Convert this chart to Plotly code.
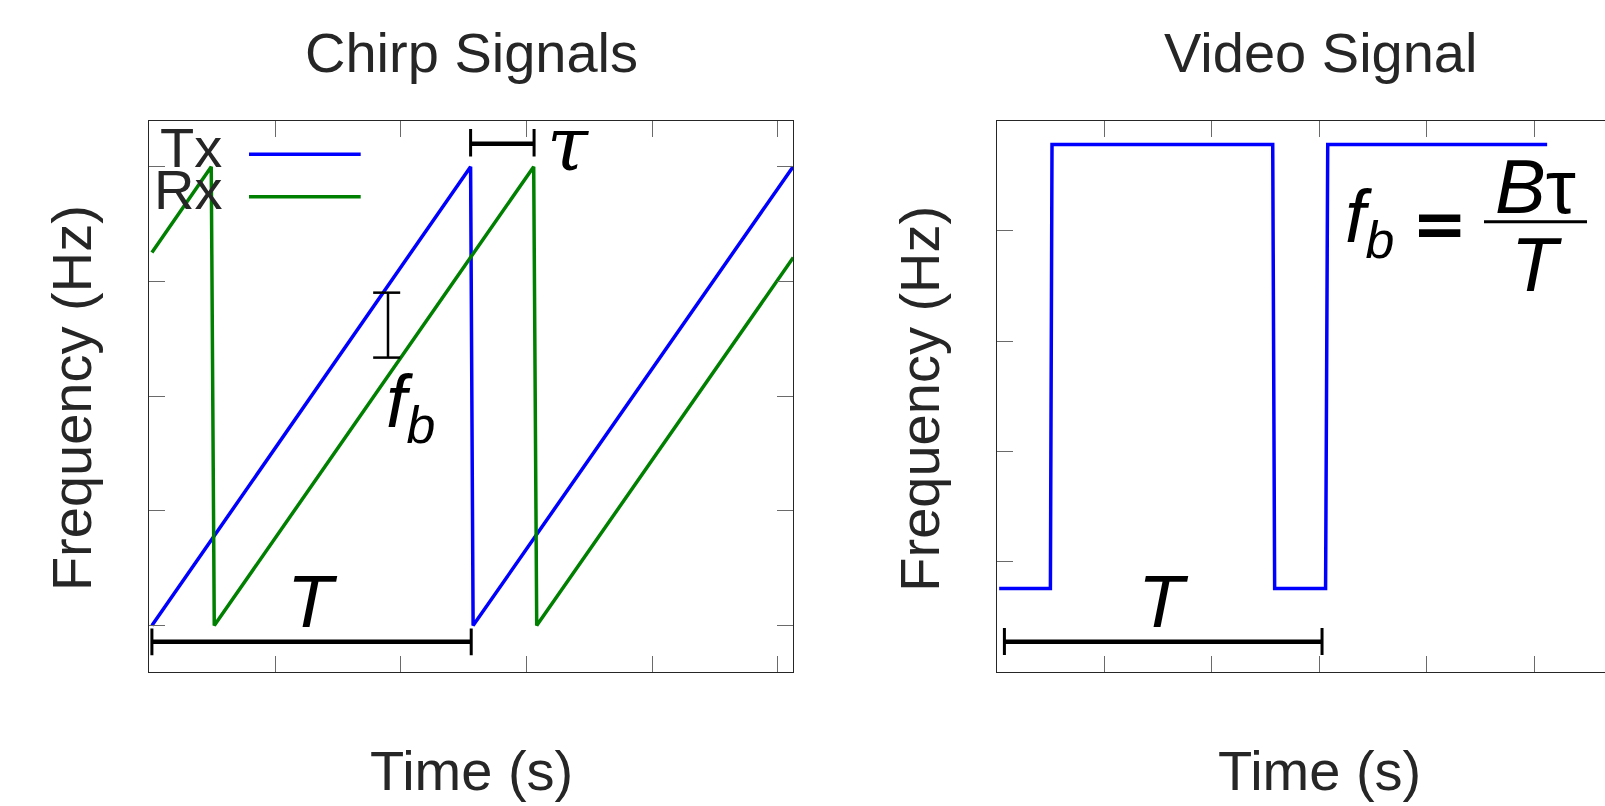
import plotly.graph_objects as go

# ---------------- data ----------------
tx_time = [0.02, 2.555, 2.575, 5.12]
tx_freq = [0.0, 1.0, 0.0, 1.0]
rx_time = [0.02, 0.492, 0.516, 3.057, 3.081, 5.122]
rx_freq = [0.813, 1.0, 0.0, 1.0, 0.0, 0.802]
video_time = [0.02, 0.497, 0.512, 2.566, 2.584, 3.058, 3.078, 5.12]
video_level = [0.753, 0.753, 4.785, 4.785, 0.753, 0.753, 4.785, 4.785]
left_xticks = [0, 1, 2, 3, 4, 5]
left_yticks = [0, 0.25, 0.5, 0.75, 1.0]
right_xticks = [0, 1, 2, 3, 4, 5]
right_yticks = [0, 1, 2, 3, 4, 5]
panel_titles = ["Chirp Signals", "Video Signal"]
x_title = "Time (s)"
y_title = "Frequency (Hz)"
legend_names = ["Tx", "Rx"]

# ---------------- layout geometry (pixels) ----------------
W, H = 1605, 806
L_X0, L_X1 = 149.4, 793.3
R_X0, R_X1 = 997.0, 1605.0
Y_TOP, Y_BOT = 120.8, 671.5
L_XR = [0, 5.122]
L_YR = [-0.1, 1.1]
R_XR = [0, (R_X1 - R_X0) / 107.45]
R_YR = [0, 5]

BLUE = "#0000FF"
GREEN = "#008000"
TXT = "#262626"
AXC = "#262626"
TICKC = "#6a6a6a"
FONT = "Liberation Sans, Arial, Helvetica, sans-serif"
MATHF = 74


def px(x):
    return x / W


def py(y):
    return 1 - y / H


def lx(p):  # left panel pixel x -> data
    return L_XR[0] + (p - L_X0) / (L_X1 - L_X0) * (L_XR[1] - L_XR[0])


def ly(p):
    return L_YR[0] + (Y_BOT - p) / (Y_BOT - Y_TOP) * (L_YR[1] - L_YR[0])


def rx(p):
    return R_XR[0] + (p - R_X0) / (R_X1 - R_X0) * (R_XR[1] - R_XR[0])


def ry(p):
    return R_YR[0] + (Y_BOT - p) / (Y_BOT - Y_TOP) * (R_YR[1] - R_YR[0])


fig = go.Figure()
fig.add_trace(go.Scatter(x=tx_time, y=tx_freq, mode="lines", name=legend_names[0],
                         line=dict(color=BLUE, width=3.5), xaxis="x", yaxis="y",
                         showlegend=False, hoverinfo="skip"))
fig.add_trace(go.Scatter(x=rx_time, y=rx_freq, mode="lines", name=legend_names[1],
                         line=dict(color=GREEN, width=3.5), xaxis="x", yaxis="y",
                         showlegend=False, hoverinfo="skip"))
fig.add_trace(go.Scatter(x=video_time, y=video_level, mode="lines", name="Video",
                         line=dict(color=BLUE, width=3.5), xaxis="x2", yaxis="y2",
                         showlegend=False, hoverinfo="skip"))

axis_common = dict(showgrid=False, zeroline=False, showticklabels=False,
                   showline=True, linecolor=AXC, linewidth=1,
                   ticks="inside", ticklen=16, tickwidth=1, tickcolor=TICKC)
ydom = [py(Y_BOT), py(Y_TOP)]
fig.update_layout(
    width=W, height=H, margin=dict(l=0, r=0, t=0, b=0),
    paper_bgcolor="white", plot_bgcolor="white", showlegend=False,
    xaxis=dict(domain=[px(L_X0), px(L_X1)], range=L_XR, tickvals=left_xticks,
               mirror="ticks", anchor="y", **axis_common),
    yaxis=dict(domain=ydom, range=L_YR, tickvals=left_yticks,
               mirror="ticks", anchor="x", **axis_common),
    xaxis2=dict(domain=[px(R_X0), px(R_X1)], range=R_XR, tickvals=right_xticks,
                mirror="ticks", anchor="y2", **axis_common),
    yaxis2=dict(domain=ydom, range=R_YR, tickvals=right_yticks,
                mirror=False, anchor="x2", **axis_common),
)

ann = []


def text_paper(t, x, y, size=56, color=TXT, angle=0, xanchor="center"):
    ann.append(dict(text=t, x=px(x), y=py(y), xref="paper", yref="paper",
                    showarrow=False, xanchor=xanchor, yanchor="middle", borderpad=0,
                    textangle=angle, font=dict(family=FONT, size=size, color=color)))


def text_data(t, x, y, xr, yr, size=MATHF, color="black", family=FONT, xanchor="center"):
    ann.append(dict(text=t, x=x, y=y, xref=xr, yref=yr, showarrow=False,
                    xanchor=xanchor, yanchor="middle", borderpad=0,
                    font=dict(family=family, size=size, color=color)))


# titles and axis titles
L_CX = (L_X0 + L_X1) / 2
R_CX = 1320.5
text_paper(panel_titles[0], L_CX, 52.5)
text_paper(panel_titles[1], R_CX, 52.5)
text_paper(x_title, L_CX, 770.6)
text_paper(x_title, R_CX - 1.5, 770.6)
text_paper(y_title, 71.6, 398.5, angle=-90)
text_paper(y_title, 71.6 + (R_X0 - L_X0), 398.5, angle=-90)

# legend (manual, text right-aligned then line sample)
text_data(legend_names[0], lx(222.5), ly(147.9), "x", "y", size=56, color=TXT, xanchor="right")
text_data(legend_names[1], lx(222.5), ly(189.9), "x", "y", size=56, color=TXT, xanchor="right")

shapes = []


def seg(x0, y0, x1, y1, xr, yr, color="black", width=4):
    shapes.append(dict(type="line", x0=x0, y0=y0, x1=x1, y1=y1, xref=xr, yref=yr,
                       line=dict(color=color, width=width)))


seg(lx(249), ly(154.3), lx(360.7), ly(154.3), "x", "y", BLUE, 3.5)
seg(lx(249), ly(196.7), lx(360.7), ly(196.7), "x", "y", GREEN, 3.5)

# tau bracket
seg(2.555, 1.05, 3.06, 1.05, "x", "y", width=4.5)
seg(2.555, 1.022, 2.555, 1.082, "x", "y", width=3)
seg(3.06, 1.022, 3.06, 1.082, "x", "y", width=3)
text_data("<i>τ</i>", lx(568), ly(143.5), "x", "y", size=74,
          family="DejaVu Serif, Liberation Serif, serif")

# f_b bracket
seg(1.898, 0.584, 1.898, 0.7255, "x", "y", width=2.5)
seg(1.78, 0.7255, 1.995, 0.7255, "x", "y", width=2.5)
seg(1.78, 0.584, 1.995, 0.584, "x", "y", width=2.5)
text_data("<i>f</i><sub><i>b</i></sub>", lx(410), ly(407), "x", "y")

# T bracket (left)
seg(0.02, -0.0354, 2.56, -0.0354, "x", "y", width=4.5)
seg(0.02, -0.0065, 0.02, -0.0645, "x", "y", width=3)
seg(2.56, -0.0065, 2.56, -0.0645, "x", "y", width=3)
text_data("<i>T</i>", lx(312), ly(601.1), "x", "y", size=75)

# T bracket (right)
seg(0.069, 0.269, 3.025, 0.269, "x2", "y2", width=4.5)
seg(0.069, 0.15, 0.069, 0.395, "x2", "y2", width=3)
seg(3.025, 0.15, 3.025, 0.395, "x2", "y2", width=3)
text_data("<i>T</i>", rx(1163.6), ry(601.1), "x2", "y2", size=75)

# formula f_b = B tau / T
text_data("<i>f</i><sub><i>b</i></sub>", rx(1369), ry(222), "x2", "y2")
text_data("<b>=</b>", rx(1439.5), ry(224), "x2", "y2", size=66,
          family="DejaVu Sans, sans-serif")
seg(rx(1484), ry(221.7), rx(1587), ry(221.7), "x2", "y2", width=3)
text_data("<i>B</i>τ", rx(1535), ry(186.3), "x2", "y2", size=76)
text_data("<i>T</i>", rx(1536.5), ry(264.3), "x2", "y2", size=76)

fig.update_layout(annotations=ann, shapes=shapes)
fig.write_html("out.html", config={"displayModeBar": False},
               post_script="document.body.style.margin='0px';document.body.style.overflow='hidden';")
